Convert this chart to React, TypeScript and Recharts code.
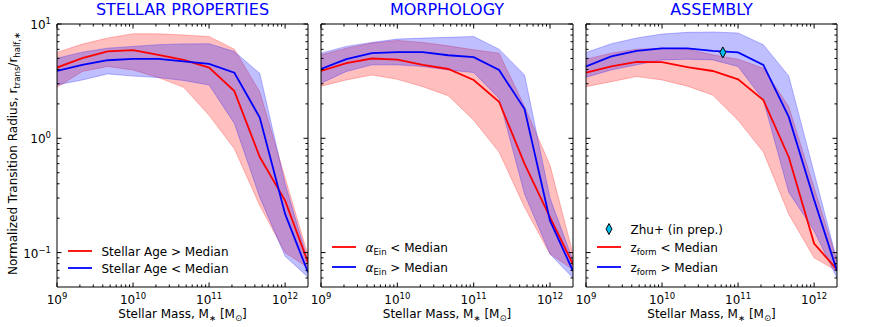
import React from 'react';
import { ComposedChart, Area, Line, XAxis, YAxis, Scatter } from 'recharts';

// ---------- data ----------
const MASS = [1e9, 2.15e9, 4.64e9, 1e10, 2.15e10, 4.64e10, 1e11, 2.15e11, 4.64e11, 1e12, 2e12];

// Panel 1: STELLAR PROPERTIES
const P1_RED_MED = [4.16, 5.02, 5.75, 5.91, 5.37, 4.85, 4.15, 2.59, 0.686, 0.285, 0.082];
const P1_RED_LO = [2.79, 3.84, 4.25, 3.96, 3.4, 2.79, 1.59, 0.81, 0.258, 0.1, 0.074];
const P1_RED_HI = [5.64, 6.67, 7.54, 8.22, 8.2, 8.0, 7.78, 6.02, 2.55, 0.45, 0.095];
const P1_BLUE_MED = [3.88, 4.39, 4.82, 4.95, 4.95, 4.7, 4.48, 3.75, 1.52, 0.218, 0.067];
const P1_BLUE_LO = [2.93, 3.24, 3.66, 3.5, 3.4, 3.2, 2.93, 1.35, 0.305, 0.093, 0.061];
const P1_BLUE_HI = [5.02, 5.67, 6.15, 6.37, 6.6, 6.7, 6.72, 5.74, 3.7, 0.4, 0.085];

// Panel 2: MORPHOLOGY
const P2_RED_MED = [3.88, 4.54, 4.99, 4.88, 4.39, 4.04, 3.24, 2.09, 0.598, 0.203, 0.079];
const P2_RED_LO = [2.86, 3.24, 3.58, 3.28, 2.83, 2.36, 1.44, 0.759, 0.249, 0.097, 0.071];
const P2_RED_HI = [5.37, 6.15, 6.81, 7.18, 6.9, 6.44, 5.94, 5.56, 1.9, 0.58, 0.097];
const P2_BLUE_MED = [4.04, 4.92, 5.56, 5.68, 5.68, 5.33, 5.13, 3.96, 1.8, 0.19, 0.069];
const P2_BLUE_LO = [3.03, 3.84, 4.39, 4.39, 4.25, 3.96, 3.76, 2.23, 0.326, 0.097, 0.06];
const P2_BLUE_HI = [5.56, 6.37, 6.9, 7.38, 7.53, 7.64, 7.78, 6.02, 3.58, 0.3, 0.085];

// Panel 3: ASSEMBLY
const P3_RED_MED = [3.76, 4.25, 4.67, 4.63, 4.19, 3.88, 3.28, 2.16, 0.686, 0.12, 0.071];
const P3_RED_LO = [2.83, 3.13, 3.47, 3.24, 2.86, 2.39, 1.44, 0.759, 0.217, 0.09, 0.069];
const P3_RED_HI = [4.92, 5.56, 6.02, 6.15, 6.02, 5.37, 4.92, 4.1, 1.89, 0.37, 0.085];
const P3_BLUE_MED = [4.25, 5.2, 5.83, 6.11, 6.11, 5.83, 5.64, 4.39, 1.54, 0.29, 0.069];
const P3_BLUE_LO = [3.42, 3.96, 4.39, 4.85, 4.92, 4.85, 4.25, 2.16, 0.337, 0.155, 0.06];
const P3_BLUE_HI = [5.64, 6.72, 7.54, 8.17, 8.45, 8.51, 8.34, 6.58, 3.51, 0.5, 0.085];

// Zhu+ (in prep.)
const ZHU_MASS = [6.3e10];
const ZHU_R = [5.64];

// ticks
const X_MAJOR = [1e9, 1e10, 1e11, 1e12];
const X_MINOR = [
  2e9, 3e9, 4e9, 5e9, 6e9, 7e9, 8e9, 9e9,
  2e10, 3e10, 4e10, 5e10, 6e10, 7e10, 8e10, 9e10,
  2e11, 3e11, 4e11, 5e11, 6e11, 7e11, 8e11, 9e11,
];
const Y_MAJOR = [0.1, 1, 10];
const Y_MINOR = [0.06, 0.07, 0.08, 0.09, 0.2, 0.3, 0.4, 0.5, 0.6, 0.7, 0.8, 0.9, 2, 3, 4, 5, 6, 7, 8, 9];
const X_EXP: Record<string, string> = { '1000000000': '9', '10000000000': '10', '100000000000': '11', '1000000000000': '12' };
const Y_EXP: Record<string, string> = { '0.1': '\u22121', '1': '0', '10': '1' };

const TITLES = ['STELLAR PROPERTIES', 'MORPHOLOGY', 'ASSEMBLY'];

// ---------- build ----------
const build = (rm: number[], rlo: number[], rhi: number[], bm: number[], blo: number[], bhi: number[]) =>
  MASS.map((m, i) => ({ m, rm: rm[i], rlo: rlo[i], rhi: rhi[i], bm: bm[i], blo: blo[i], bhi: bhi[i] }));

const DATA1 = build(P1_RED_MED, P1_RED_LO, P1_RED_HI, P1_BLUE_MED, P1_BLUE_LO, P1_BLUE_HI);
const DATA2 = build(P2_RED_MED, P2_RED_LO, P2_RED_HI, P2_BLUE_MED, P2_BLUE_LO, P2_BLUE_HI);
const DATA3 = build(P3_RED_MED, P3_RED_LO, P3_RED_HI, P3_BLUE_MED, P3_BLUE_LO, P3_BLUE_HI);
const ZHU = ZHU_MASS.map((m, i) => ({ m, z: ZHU_R[i] }));

const X_TICKS = [...X_MAJOR, ...X_MINOR].sort((a, b) => a - b);
const Y_TICKS = [...Y_MAJOR, ...Y_MINOR].sort((a, b) => a - b);

const FONT = 'DejaVu Sans';
const RED = '#ff0000';
const BLUE = '#0000ff';
const CYAN = '#00bfef';

const isMajor = (v: number) => Math.abs(Math.log10(v) - Math.round(Math.log10(v))) < 1e-6;
const MAJ = 4.5;
const MIN = 2.5;

const makeXTick = (side: 'bottom' | 'top', label: boolean) => (p: any) => {
  const { x, y, payload } = p;
  const v = payload.value;
  const maj = isMajor(v);
  const len = maj ? MAJ : MIN;
  const dir = side === 'bottom' ? -1 : 1;
  return (
    <g>
      <line x1={x} x2={x} y1={y} y2={y + dir * len} stroke="#000" strokeWidth={1} />
      {label && maj && (
        <text x={x} y={y + 17} textAnchor="middle" fontFamily={FONT} fontSize={12} fill="#000">
          10<tspan dy={-5} fontSize={8.5}>{X_EXP[String(v)]}</tspan>
        </text>
      )}
    </g>
  );
};

const makeYTick = (side: 'left' | 'right', label: boolean) => (p: any) => {
  const { x, y, payload } = p;
  const v = payload.value;
  const maj = isMajor(v);
  const len = maj ? MAJ : MIN;
  const dir = side === 'left' ? 1 : -1;
  return (
    <g>
      <line x1={x} x2={x + dir * len} y1={y} y2={y} stroke="#000" strokeWidth={1} />
      {label && maj && (
        <text x={x - 6} y={y + 5} textAnchor="end" fontFamily={FONT} fontSize={12} fill="#000">
          10<tspan dy={-5} fontSize={8.5}>{Y_EXP[String(v)]}</tspan>
        </text>
      )}
    </g>
  );
};

const Diamond = ({ cx, cy }: any) => (
  <path d={`M${cx},${cy - 5.5} L${cx + 3},${cy} L${cx},${cy + 5.5} L${cx - 3},${cy} Z`} fill={CYAN} stroke="#000" strokeWidth={1} />
);

type LegendRow = { kind: 'line' | 'diamond'; color: string; y: number; text: React.ReactNode };

const LEG1: LegendRow[] = [
  { kind: 'line', color: RED, y: 251, text: 'Stellar Age > Median' },
  { kind: 'line', color: BLUE, y: 268, text: 'Stellar Age < Median' },
];
const LEG2: LegendRow[] = [
  { kind: 'line', color: RED, y: 247, text: <><tspan fontStyle="italic">α</tspan><tspan dy={3} fontSize={8.5}>Ein</tspan><tspan dy={-3}> &lt; Median</tspan></> },
  { kind: 'line', color: BLUE, y: 267, text: <><tspan fontStyle="italic">α</tspan><tspan dy={3} fontSize={8.5}>Ein</tspan><tspan dy={-3}> &gt; Median</tspan></> },
];
const LEG3: LegendRow[] = [
  { kind: 'diamond', color: CYAN, y: 229, text: 'Zhu+ (in prep.)' },
  { kind: 'line', color: RED, y: 247, text: <><tspan>z</tspan><tspan dy={3} fontSize={8.5}>form</tspan><tspan dy={-3}> &lt; Median</tspan></> },
  { kind: 'line', color: BLUE, y: 267, text: <><tspan>z</tspan><tspan dy={3} fontSize={8.5}>form</tspan><tspan dy={-3}> &gt; Median</tspan></> },
];

type PanelProps = {
  left: number; width: number; ml: number; mr: number; title: string; data: any[];
  legend: LegendRow[]; first: boolean; zhu?: boolean;
};

const H = 327;
const TOP = 24;
const BOTTOM = 40;

function Panel({ left, width, ml, mr, title, data, legend, first, zhu }: PanelProps) {
  const cx = ml + (width - ml - mr) / 2;
  return (
    <div style={{ position: 'absolute', left, top: 0, width, height: H }}>
      <ComposedChart width={width} height={H} data={data} margin={{ top: 0, right: 0, bottom: 0, left: 0 }}>
        <XAxis xAxisId="b" dataKey="m" type="number" scale="log" domain={[1e9, 2e12]} allowDataOverflow
          ticks={X_TICKS} interval={0} orientation="bottom" height={BOTTOM}
          axisLine={{ stroke: '#000', strokeWidth: 1 }} tickLine={false} tickSize={0} tickMargin={0}
          tick={makeXTick('bottom', true)} />
        <XAxis xAxisId="t" dataKey="m" type="number" scale="log" domain={[1e9, 2e12]} allowDataOverflow
          ticks={X_TICKS} interval={0} orientation="top" height={TOP}
          axisLine={{ stroke: '#000', strokeWidth: 1 }} tickLine={false} tickSize={0} tickMargin={0}
          tick={makeXTick('top', false)} />
        <YAxis yAxisId="l" type="number" scale="log" domain={[0.05, 10]} allowDataOverflow
          ticks={Y_TICKS} interval={0} orientation="left" width={ml}
          axisLine={{ stroke: '#000', strokeWidth: 1 }} tickLine={false} tickSize={0} tickMargin={0}
          tick={makeYTick('left', first)} />
        <YAxis yAxisId="r" type="number" scale="log" domain={[0.05, 10]} allowDataOverflow
          ticks={Y_TICKS} interval={0} orientation="right" width={mr}
          axisLine={{ stroke: '#000', strokeWidth: 1 }} tickLine={false} tickSize={0} tickMargin={0}
          tick={makeYTick('right', false)} />
        <Area xAxisId="b" yAxisId="l" type="linear" dataKey={(d: any) => [d.rlo, d.rhi]}
          fill={RED} fillOpacity={0.25} stroke={RED} strokeOpacity={0.25} strokeWidth={1} isAnimationActive={false} />
        <Area xAxisId="b" yAxisId="l" type="linear" dataKey={(d: any) => [d.blo, d.bhi]}
          fill={BLUE} fillOpacity={0.25} stroke={BLUE} strokeOpacity={0.25} strokeWidth={1} isAnimationActive={false} />
        <Line xAxisId="b" yAxisId="l" type="linear" dataKey="rm" stroke={RED} strokeWidth={1.8} dot={false} isAnimationActive={false} />
        <Line xAxisId="b" yAxisId="l" type="linear" dataKey="bm" stroke={BLUE} strokeWidth={1.8} dot={false} isAnimationActive={false} />
        {zhu && (
          <Scatter xAxisId="b" yAxisId="l" data={ZHU} dataKey="z" shape={Diamond} isAnimationActive={false} />
        )}
        <text x={cx} y={15} textAnchor="middle" fontFamily={FONT} fontSize={16} fill={BLUE}>{title}</text>
        <text x={cx} y={318} textAnchor="middle" fontFamily={FONT} fontSize={12} fill="#000">
          Stellar Mass, M<tspan dy={3} fontSize={8.5}>∗</tspan><tspan dy={-3}> [M</tspan><tspan dy={3} fontSize={8.5}>⊙</tspan><tspan dy={-3}>]</tspan>
        </text>
        {first && (
          <text x={-275} y={17} transform="rotate(-90)" textAnchor="start" fontFamily={FONT} fontSize={12} fill="#000">
            Normalized Transition Radius, r<tspan dy={3} fontSize={8.5}>trans</tspan><tspan dy={-3}>/r</tspan><tspan dy={3} fontSize={8.5}>half,∗</tspan>
          </text>
        )}
        {legend.map((r, i) => (
          <g key={i}>
            {r.kind === 'line' ? (
              <line x1={ml + 11} x2={ml + 35} y1={r.y} y2={r.y} stroke={r.color} strokeWidth={1.8} />
            ) : (
              <Diamond cx={ml + 23} cy={r.y} />
            )}
            <text x={ml + 44.5} y={r.y + 4.5} fontFamily={FONT} fontSize={12} fill="#000">{r.text}</text>
          </g>
        ))}
      </ComposedChart>
    </div>
  );
}

export default function App() {
  return (
    <div style={{ position: 'absolute', left: 0, top: 0, width: 872, height: H, background: '#fff' }}>
      <Panel left={0} width={320} ml={57} mr={12} title={TITLES[0]} data={DATA1} legend={LEG1} first />
      <Panel left={310} width={270} ml={11} mr={7} title={TITLES[1]} data={DATA2} legend={LEG2} first={false} />
      <Panel left={575} width={297} ml={11} mr={35} title={TITLES[2]} data={DATA3} legend={LEG3} first={false} zhu />
    </div>
  );
}
